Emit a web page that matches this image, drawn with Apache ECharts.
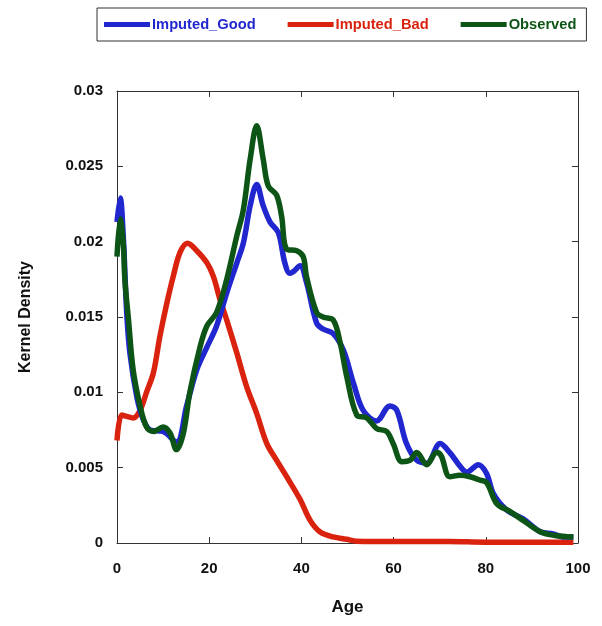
<!DOCTYPE html>
<html><head><meta charset="utf-8">
<script src="https://cdn.jsdelivr.net/npm/echarts@6/dist/echarts.min.js"></script>
<style>html,body{margin:0;padding:0;background:#fff}#c{width:602px;height:626px}</style>
</head><body><div id="c"></div>
<script>
var seriesNames = ['Imputed_Good', 'Imputed_Bad', 'Observed'];
var seriesColors = ['#2127cf', '#d9230f', '#0d5516'];
var xTicks = [0, 20, 40, 60, 80, 100];
var yTicks = [0, 0.005, 0.01, 0.015, 0.02, 0.025, 0.03];

var goodAge = [0, 0.7, 1.4, 2.1, 2.8, 4.3, 5.7, 7.2, 10, 12.9, 15.1, 17.3, 19.5, 21.6, 23.8, 26, 27.4, 28.9, 30.3, 31.7, 33.2, 35, 36.4, 37.5, 38.2, 39.7, 41.1, 43.3, 44.7, 46.9, 49.1, 51.3, 53.4, 56.3, 59.2, 60.7, 62.8, 65, 67.2, 70.1, 72.2, 74.4, 75.9, 78.4, 80.2, 81.6, 84.5, 88.1, 91.8, 94.6, 96.8, 99];
var goodDens = [0.0213, 0.0229, 0.0201, 0.0153, 0.0126, 0.0097, 0.0082, 0.0075, 0.0074, 0.0067, 0.0091, 0.0115, 0.0130, 0.0144, 0.0166, 0.0186, 0.0199, 0.0224, 0.0238, 0.0224, 0.0213, 0.0206, 0.0186, 0.0179, 0.0180, 0.0184, 0.0173, 0.0146, 0.0142, 0.0139, 0.0128, 0.0106, 0.0088, 0.0081, 0.0091, 0.0088, 0.0066, 0.0055, 0.0053, 0.0066, 0.0060, 0.0051, 0.0047, 0.0052, 0.0046, 0.0033, 0.0022, 0.0016, 0.00075, 0.0006, 0.0004, 0.0004];

var badAge = [0, 1, 2.1, 3.5, 5, 6.4, 7.9, 9.3, 10.8, 12.2, 13.7, 15.3, 17.3, 19.5, 20.9, 22.3, 23.8, 26, 28.1, 30.3, 32.5, 34.6, 36.8, 39.7, 41.9, 44, 46.9, 49.8, 52, 60, 72, 80, 90, 99];
var badDens = [0.0068, 0.0085, 0.0084, 0.0083, 0.0088, 0.0100, 0.0113, 0.0137, 0.0159, 0.0177, 0.0193, 0.0199, 0.0194, 0.0186, 0.0177, 0.0162, 0.0148, 0.0126, 0.0104, 0.0086, 0.0066, 0.0055, 0.0044, 0.0029, 0.0015, 0.00075, 0.0004, 0.00025, 0.00012, 0.0001, 0.0001, 0.00005, 0.00005, 0.00005];

var obsAge = [0, 0.7, 1.4, 1.7, 2.5, 3.5, 5, 6.4, 7.9, 10, 11.5, 12.9, 14.4, 15.8, 18, 19.5, 21.6, 23.8, 26, 27.4, 28.9, 30.3, 31.7, 32.8, 34.6, 35.7, 36.8, 39, 40.4, 41.1, 43.3, 44.7, 46.9, 48.4, 49.8, 52, 54.2, 56.3, 58.5, 59.9, 61.8, 63.6, 65, 67.2, 69.3, 70.3, 72.2, 74.4, 76.6, 78.5, 80.2, 82.4, 85.2, 88.1, 91.8, 95, 99];
var obsDens = [0.0190, 0.0215, 0.0197, 0.0175, 0.0148, 0.0115, 0.0091, 0.0077, 0.0074, 0.0077, 0.0073, 0.0062, 0.0073, 0.0100, 0.0130, 0.0144, 0.0153, 0.0175, 0.0204, 0.0221, 0.0255, 0.0277, 0.0255, 0.0237, 0.0231, 0.0217, 0.0195, 0.0194, 0.0190, 0.0177, 0.0153, 0.0150, 0.0148, 0.0133, 0.0111, 0.0085, 0.0083, 0.0076, 0.0074, 0.0066, 0.0054, 0.0055, 0.0060, 0.0052, 0.0060, 0.0058, 0.0044, 0.0045, 0.0044, 0.0042, 0.0040, 0.0026, 0.0021, 0.0015, 0.00075, 0.0005, 0.0004];

function pairs(a, b) { return a.map(function (v, i) { return [v, b[i]]; }); }
var allData = [pairs(goodAge, goodDens), pairs(badAge, badDens), pairs(obsAge, obsDens)];

var font = 'Arial, "Liberation Sans", sans-serif';
var chart = echarts.init(document.getElementById('c'), null, { renderer: 'canvas' });
var axisLineStyle = { color: '#333', width: 1 };
var lbl = { fontFamily: font, fontWeight: 'bold', fontSize: 15, color: '#111' };

var option = {
  animation: false,
  backgroundColor: '#fff',
  legend: {
    left: 97, top: 8,
    orient: 'horizontal',
    borderColor: '#333', borderWidth: 1, borderRadius: 0,
    padding: [9, 10, 9, 7],
    itemWidth: 46, itemHeight: 5, itemGap: 32,
    icon: 'rect',
    textStyle: { fontFamily: font, fontWeight: 'bold', fontSize: 14.7, padding: [0, 0, 0, -3] },
    data: seriesNames.map(function (n, i) { return { name: n, textStyle: { color: seriesColors[i] } }; })
  },
  grid: { left: 117, right: 24, top: 91, bottom: 83, show: false },
  xAxis: [{
    type: 'value', min: 0, max: 100, interval: 20, position: 'bottom',
    name: 'Age', nameLocation: 'middle', nameGap: 56,
    nameTextStyle: { fontFamily: font, fontWeight: 'bold', fontSize: 17, color: '#111' },
    axisLine: { show: true, onZero: false, lineStyle: axisLineStyle },
    axisTick: { show: true, inside: true, length: 6, lineStyle: axisLineStyle },
    axisLabel: Object.assign({ margin: 18, formatter: function (v) { return xTicks.indexOf(v) >= 0 ? String(v) : ''; } }, lbl),
    splitLine: { show: false }
  }, {
    type: 'value', min: 0, max: 100, interval: 20, position: 'top',
    axisLine: { show: true, onZero: false, lineStyle: axisLineStyle },
    axisTick: { show: true, inside: true, length: 6, lineStyle: axisLineStyle },
    axisLabel: { show: false }, splitLine: { show: false }
  }],
  yAxis: [{
    type: 'value', min: 0, max: 0.03, interval: 0.005, position: 'left',
    name: 'Kernel Density', nameLocation: 'middle', nameGap: 83, nameRotate: 90,
    nameTextStyle: { fontFamily: font, fontWeight: 'bold', fontSize: 16, color: '#111' },
    axisLine: { show: true, onZero: false, lineStyle: axisLineStyle },
    axisTick: { show: true, inside: true, length: 6, lineStyle: axisLineStyle },
    axisLabel: Object.assign({ margin: 14, formatter: function (v) {
      var r = +v.toFixed(3);
      return yTicks.indexOf(r) >= 0 ? String(r) : '';
    } }, lbl),
    splitLine: { show: false }
  }, {
    type: 'value', min: 0, max: 0.03, interval: 0.005, position: 'right',
    axisLine: { show: true, onZero: false, lineStyle: axisLineStyle },
    axisTick: { show: true, inside: true, length: 6, lineStyle: axisLineStyle },
    axisLabel: { show: false }, splitLine: { show: false }
  }],
  series: seriesNames.map(function (n, i) {
    return {
      name: n, type: 'line', xAxisIndex: 0, yAxisIndex: 0,
      data: allData[i], smooth: 0.35, showSymbol: false, symbol: 'none',
      color: seriesColors[i],
      lineStyle: { width: 5.5, color: seriesColors[i] },
      z: [2, 1, 3][i]
    };
  })
};
chart.setOption(option);
</script></body></html>
